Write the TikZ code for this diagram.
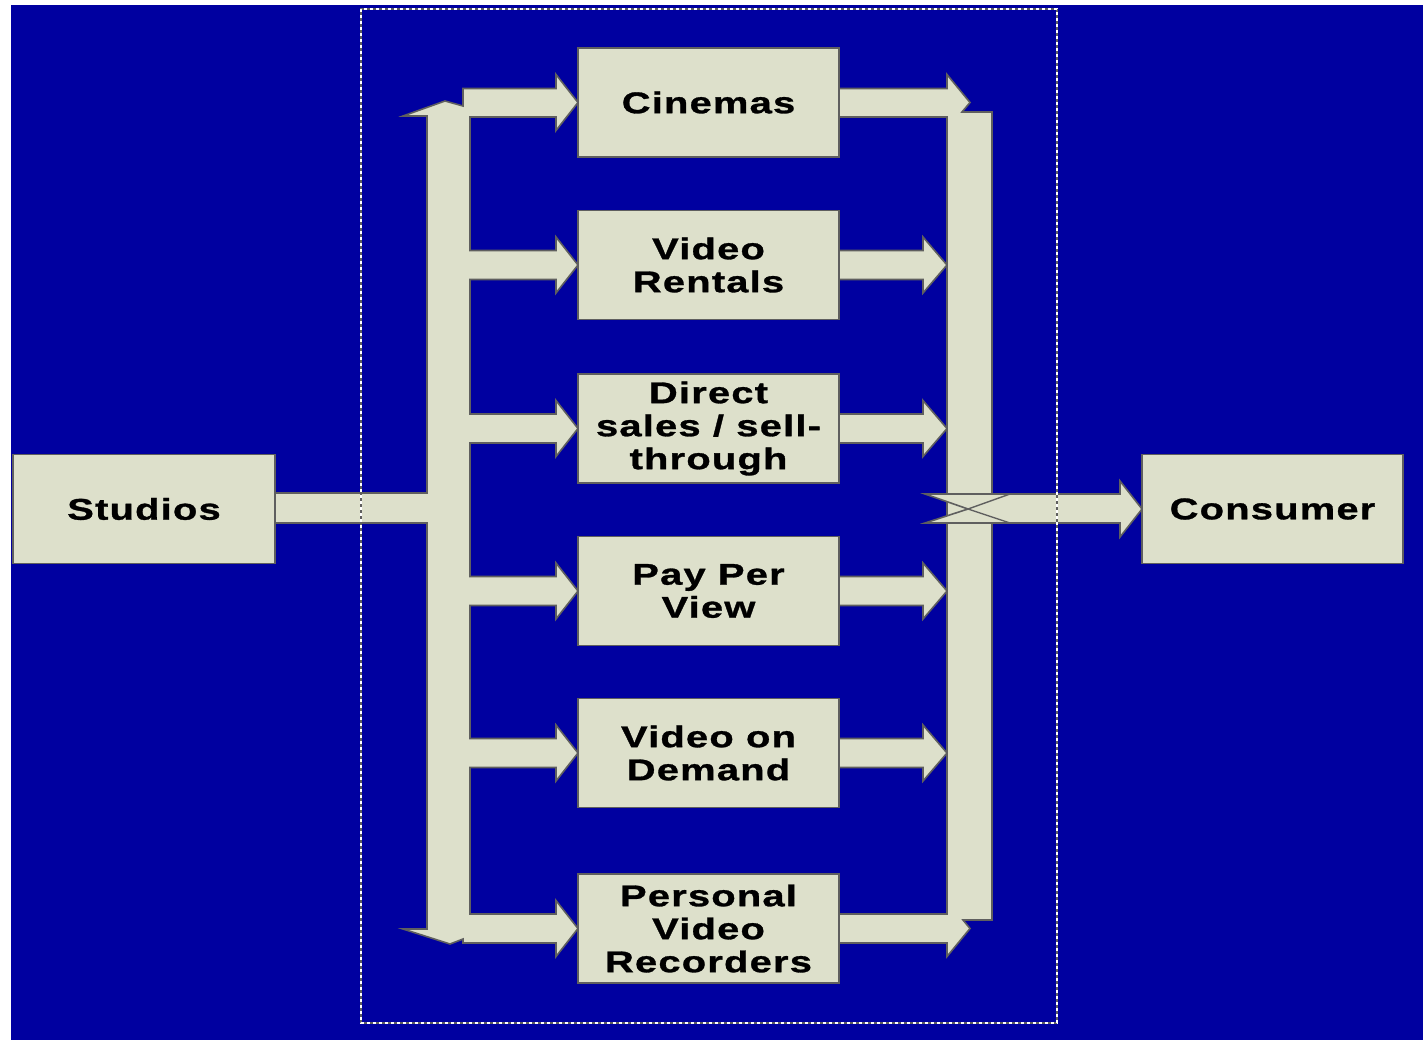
\documentclass[tikz,border=0pt]{standalone}
\usepackage{fontspec}
\newfontfamily\lblfont[FakeStretch=1.33,LetterSpace=4,FakeBold=1]{Liberation Sans}
\definecolor{navy}{RGB}{0,0,160}
\definecolor{khaki}{RGB}{221,224,203}
\definecolor{edge}{RGB}{95,95,95}
\tikzset{
  stage/.style={draw=edge, line width=1.6pt, fill=khaki, minimum width=261pt,
    minimum height=109pt, inner sep=0pt, align=center,
    font=\lblfont\bfseries\fontsize{30}{33}\selectfont},
  flow/.style={draw=edge, line width=1.6pt, fill=khaki, line join=miter},
  frame/.style={draw=white, line width=1.6pt, dash pattern=on 3pt off 3pt}
}
\begin{document}
\begin{tikzpicture}[x=1pt,y=-1pt]
\useasboundingbox (0,0) rectangle (1426,1044);
\fill[white] (0,0) rectangle (1426,1044);
\fill[navy] (11,5) rectangle (1423,1040);

% distribution bus from the studios to every channel
\filldraw[flow] (403,116) -- (445,101) -- (463,106) -- (463,88.5)
  -- (556,88.5) -- (556,74.5) -- (578,102.5) -- (556,130.5) -- (556,117) -- (470,117)
  \foreach \y in {265,428.5,591,753} {
    -- (470,\y-14.5) -- (556,\y-14.5) -- (556,\y-28) -- (578,\y)
    -- (556,\y+28) -- (556,\y+14.5) -- (470,\y+14.5) }
  -- (470,914) -- (556,914) -- (556,900.5) -- (578,928.5) -- (556,956.5) -- (556,943)
  -- (463,943) -- (463,939) -- (450,944) -- (403,929) -- (427,929)
  -- (427,523) -- (275,523) -- (275,493) -- (427,493) -- (427,116) -- cycle;

% collecting bus from every channel to the consumer
\filldraw[flow] (839,88.5) -- (947,88.5) -- (947,74.5) -- (970,102.5) -- (962,112)
  -- (992,112) -- (992,920) -- (963,920) -- (970,928.5) -- (947,956.5) -- (947,943)
  -- (839,943) -- (839,914) -- (947,914)
  \foreach \y in {753,591,428.5,265} {
    -- (947,\y) -- (923,\y+28) -- (923,\y+14.5) -- (839,\y+14.5)
    -- (839,\y-14.5) -- (923,\y-14.5) -- (923,\y-28) -- (947,\y) }
  -- (947,117) -- (839,117) -- cycle;

% notched arrow into the consumer box
\filldraw[flow] (925,494) -- (1120,494) -- (1120,481) -- (1142,509) -- (1120,537)
  -- (1120,523) -- (925,523) -- (968,509) -- cycle;
\draw[edge, line width=1.4pt] (968,509) -- (1010,523) (968,509) -- (1010,494);

% channel boxes
\node[stage] (cin) at (708.5,102.5) {Cinemas};
\node[stage] (rent) at (708.5,265) {Video\\Rentals};
\node[stage] (sell) at (708.5,428.5) {Direct\\sales / sell-\\through};
\node[stage] (ppv) at (708.5,591) {Pay Per\\View};
\node[stage] (vod) at (708.5,753) {Video on\\Demand};
\node[stage] (pvr) at (708.5,928.5) {Personal\\Video\\Recorders};

% end points
\node[stage, minimum width=262pt] (studio) at (144,509) {Studios};
\node[stage, minimum width=261pt] (cons) at (1272.5,509) {Consumer};

% dotted frame around the channels
\draw[edge, line width=1.6pt] (361,9) rectangle (1057,1023);
\draw[frame] (361,9) rectangle (1057,1023);
\end{tikzpicture}
\end{document}
